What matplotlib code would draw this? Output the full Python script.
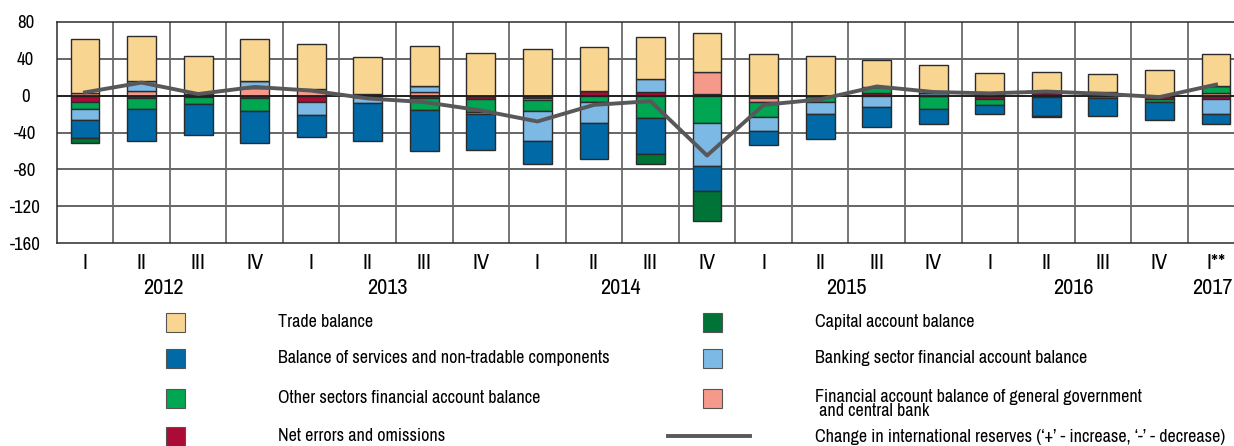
import matplotlib
matplotlib.use("Agg")
import matplotlib.pyplot as plt
from matplotlib import font_manager as fm
import numpy as np
from matplotlib.patches import Rectangle
from matplotlib.lines import Line2D
from matplotlib.transforms import blended_transform_factory

# prefer a narrow sans face; fall back to DejaVu with smaller sizes
names = {(f.name, f.stretch) for f in fm.fontManager.ttflist}
narrow = [n for n, s in names if 'Narrow' in n or 'Condensed' in n]
scale = 1.0
if any(n == 'Liberation Sans Narrow' for n, s in names):
    plt.rcParams['font.family'] = ['Liberation Sans Narrow', 'DejaVu Sans']
elif narrow:
    plt.rcParams['font.family'] = [sorted(narrow)[0], 'DejaVu Sans']
elif any(n == 'DejaVu Sans' and s == 'condensed' for n, s in names):
    plt.rcParams['font.family'] = ['DejaVu Sans']
    plt.rcParams['font.stretch'] = 'condensed'
    scale = 0.85
else:
    plt.rcParams['font.family'] = ['DejaVu Sans']
    scale = 0.76
plt.rcParams['axes.unicode_minus'] = False

quarters = ['I', 'II', 'III', 'IV', 'I', 'II', 'III', 'IV', 'I', 'II', 'III', 'IV',
            'I', 'II', 'III', 'IV', 'I', 'II', 'III', 'IV', 'I**']
years = ['2012', '2013', '2014', '2015', '2016', '2017']

trade = [59, 49.5, 41.4, 45.9, 48.6, 40.4, 44, 46.2, 50.2, 48, 45.1, 42.2,
         45.1, 43.6, 29.8, 31, 23, 23, 19, 27.5, 34.6]
services = [-19.6, -33.8, -33, -34.9, -23.6, -41.5, -44, -38.9, -25.1, -39.6, -39.3, -27.3,
            -15.3, -27.3, -21.8, -16.4, -9.5, -20.5, -19.5, -20, -11.3]
other_sectors = [-7.6, -12, -8.4, -14.2, 0, -1.5, -14, -14.5, -11.5, -7.3, -24, -30.2,
                 -16.4, -7.3, 5.8, -14.9, -6.5, -1.5, -3, -3, 7.2]
net_errors = [-6.5, -2.9, -1, -2.2, -6.9, 1.8, -2, -3.3, -2.5, 4.7, 3.6, 1.8,
              -2.9, 0, 3.3, 0, -3.6, 2.5, 4, -3.5, -3.5]
capital = [-4.7, 0, 0, 0, 0, 0, 0, 0, 0, 0, -10.5, -32.4,
           0, 0, 0, 0, 0, -1, 0, 0, 0]
banking = [-12.7, 10.9, 0, 7.6, -14.5, -6, 6, -2.2, -32.7, -22.2, 14.9, -46.2,
           -14.5, -12.7, -12, 2.5, 0, 0, 0, 0, -16.5]
government = [2.5, 4.7, 2.2, 8, 7, 0, 4, 0, -2.5, 0, 0, 24.4,
              -4.4, 0, 0, 0, 1.5, 0, 0, 0, 3.3]
reserves = [3.6, 14.2, 1.8, 9.5, 5.5, -3, -7, -16, -28, -10, -6, -65,
            -10, -4, 10, 4, 2.5, 4.5, 2, -1.5, 12]

# stacking order of the columns (bottom to top away from zero)
stack = [
    (net_errors, '#ad0b37'),
    (government, '#f59a8a'),
    (other_sectors, '#00a651'),
    (banking, '#7db9e5'),
    (services, '#0069a6'),
    (capital, '#007336'),
    (trade, '#f9d592'),
]

W, H = 1234, 446
fig = plt.figure(figsize=(W / 100, H / 100), dpi=100)
ax = fig.add_axes([56.7 / W, (H - 243) / H, 1187.6 / W, 221 / H])

x = np.arange(len(quarters))
pos_base = np.zeros(len(x))
neg_base = np.zeros(len(x))
for vals, col in stack:
    v = np.array(vals, dtype=float)
    bottoms = np.where(v >= 0, pos_base, neg_base)
    ax.bar(x, v, 0.51, bottom=bottoms, color=col, edgecolor='#2b2b2b',
           linewidth=1.0, zorder=3)
    pos_base += np.where(v >= 0, v, 0)
    neg_base += np.where(v < 0, v, 0)

ax.plot(x, reserves, color='#58585a', linewidth=2.8, zorder=4)

ax.set_xlim(-0.5, len(x) - 0.5)
ax.set_ylim(-160, 80)
yt = np.arange(-160, 81, 40)
ax.set_yticks(yt)
ax.set_yticklabels([str(v) for v in yt], ha='center')
ax.set_xticks(x)
ax.set_xticklabels(quarters, fontsize=16 * scale)
ax.tick_params(axis='x', length=0, pad=7)
ax.tick_params(axis='y', length=0, pad=22.5, labelsize=13.5 * scale)
for yv in np.arange(-120, 80, 40):
    ax.axhline(yv, color='#3c3c3c', linewidth=1.1, zorder=1)
ax.axhline(0, color='#1e1e1e', linewidth=1.3, zorder=3.5)
for xv in np.arange(0.5, len(x) - 0.5, 1):
    ax.axvline(xv, color='#6a6a6a', linewidth=1.3, zorder=1)
for s in ax.spines.values():
    s.set_color('#2b2b2b')
    s.set_linewidth(1.1)
ax.spines['right'].set_visible(False)

trans = blended_transform_factory(ax.transData, fig.transFigure)
year_pos = [1.38, 5.34, 9.46, 13.47, 17.47, 19.94]
for yr, xp in zip(years, year_pos):
    ax.text(xp, 1 - 288 / H, yr, transform=trans, ha='center', va='center',
            fontsize=16 * scale)

# legend, laid out in figure pixels
def fx(px):
    return px / W

def fy(py):
    return 1 - py / H

fs = 13 * scale
legend_left = [
    ('Trade balance', '#f9d592', 322),
    ('Balance of services and non-tradable components', '#0069a6', 358),
    ('Other sectors financial account balance', '#00a651', 398),
    ('Net errors and omissions', '#ad0b37', 436),
]
legend_right = [
    ('Capital account balance', '#007336', 322, 322),
    ('Banking sector financial account balance', '#7db9e5', 358, 358),
    ('Financial account balance of general government\n and central bank', '#f59a8a', 398, 404),
]
sq = 19
for label, col, yc in legend_left:
    fig.add_artist(Rectangle((fx(166), fy(yc + sq / 2)), sq / W, sq / H,
                             transform=fig.transFigure, facecolor=col,
                             edgecolor='#555555', linewidth=0.8))
    fig.text(fx(278), fy(yc), label, ha='left', va='center', fontsize=fs)
for label, col, ry, yc in legend_right:
    fig.add_artist(Rectangle((fx(703), fy(ry + sq / 2)), sq / W, sq / H,
                             transform=fig.transFigure, facecolor=col,
                             edgecolor='#555555', linewidth=0.8))
    fig.text(fx(815), fy(yc), label, ha='left', va='center', fontsize=fs,
             linespacing=0.8)
fig.add_artist(Line2D([fx(668), fx(750)], [fy(436), fy(436)], color='#58585a',
                      linewidth=2.8, transform=fig.transFigure))
fig.text(fx(815), fy(437), "Change in international reserves (\u2018+\u2019 - increase, \u2018-\u2019 - decrease)",
         ha='left', va='center', fontsize=fs)

fig.savefig('out.png', dpi=100)
